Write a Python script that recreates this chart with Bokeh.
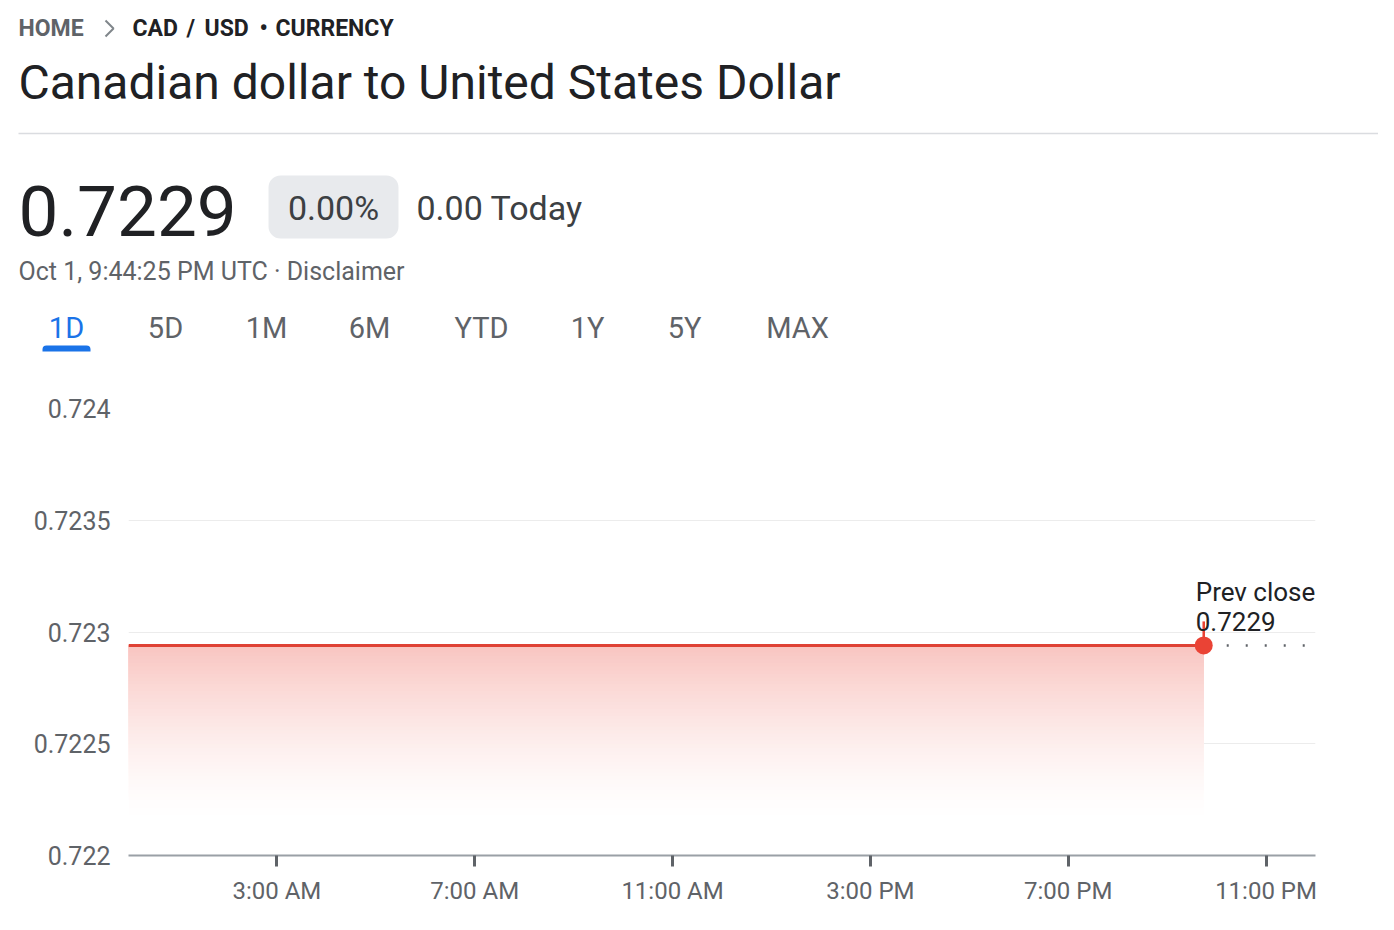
import numpy as np
from bokeh.plotting import figure
from bokeh.models import Range1d, FixedTicker
from bokeh.embed import file_html
from bokeh.resources import INLINE
from bokeh.core.properties import value

# ---------------- data ----------------
breadcrumb_home = "HOME"
breadcrumb_pair = ["CAD", "/", "USD", "•", "CURRENCY"]
title_text = "Canadian dollar to United States Dollar"
price_text = "0.7229"
change_pct_text = "0.00%"
change_abs_text = "0.00 Today"
timestamp_text = "Oct 1, 9:44:25 PM UTC · Disclaimer"
tab_labels = ["1D", "5D", "1M", "6M", "YTD", "1Y", "5Y", "MAX"]
active_tab = "1D"

times_h = [0.0, 21.74]          # hours after midnight
rates = [0.72294, 0.72294]
prev_close = 0.72294
prev_close_end_h = 23.8

y_ticks = [0.722, 0.7225, 0.723, 0.7235, 0.724]
y_tick_labels = ["0.722", "0.7225", "0.723", "0.7235", "0.724"]
x_ticks = [3, 7, 11, 15, 19, 23]
x_tick_labels = ["3:00 AM", "7:00 AM", "11:00 AM", "3:00 PM", "7:00 PM", "11:00 PM"]

# ---------------- layout / style ----------------
W, H = 1378, 914
HH = 372                                  # header height
CH = H - HH                               # chart height
FL, FR, FT, FB = 128, 1315, 408, 855      # chart frame edges in page pixels
RED = "#ea4335"
LINE_RED = "#df4235"
DARK = "#202124"
GRAY = "#5f6368"
BLUE = "#1a73e8"
RB = value("Roboto")

# ---------------- header (page-pixel coordinates) ----------------
hdr = figure(width=W, height=HH, x_range=Range1d(0, W), y_range=Range1d(HH, 0),
             output_backend="svg", toolbar_location=None, min_border=0,
             x_axis_location=None, y_axis_location=None)
hdr.grid.visible = False
hdr.outline_line_color = None


def txt(px, py, text, size, color=DARK, align="left", style="normal"):
    hdr.text(x=[px], y=[py], text=[text], text_font=RB, text_font_size=size, text_color=color,
             text_align=align, text_baseline="middle", text_font_style=style)


txt(18, 28, breadcrumb_home, "23px", GRAY, style="bold")
hdr.line(x=[105, 113, 105], y=[20, 28, 36], line_color="#80868b", line_width=2)
for word, px in zip(breadcrumb_pair, [132, 186, 204, 259, 275]):
    txt(px, 28, word, "23px", DARK, style="bold")
txt(18, 82, title_text, "48px", DARK)
hdr.line(x=[18, W], y=[133, 133], line_color="#dadce0", line_width=1.5)

txt(18, 210, price_text, "71px", DARK)
hdr.quad(left=[268], right=[398], top=[175], bottom=[238], fill_color="#e8eaed",
         line_color=None, border_radius=12)
txt(333, 207, change_pct_text, "34px", "#3c4043", align="center")
txt(416, 207, change_abs_text, "34px", "#3c4043")
txt(18, 271, timestamp_text, "25px", GRAY)

tab_x = [66, 165, 266, 369, 481, 587, 684, 797]
tab_colors = [BLUE if t_lab == active_tab else GRAY for t_lab in tab_labels]
hdr.text(x=tab_x, y=[327] * len(tab_x), text=tab_labels, text_font=RB, text_font_size="29px",
         text_color=tab_colors, text_align="center", text_baseline="middle")
ai = tab_labels.index(active_tab)
hdr.quad(left=[tab_x[ai] - 24], right=[tab_x[ai] + 24], top=[345], bottom=[351],
         fill_color=BLUE, line_color=None, border_radius=(4, 4, 0, 0))

# ---------------- chart ----------------
p = figure(width=W, height=CH, x_range=Range1d(0, 24), y_range=Range1d(0.722, 0.724),
           output_backend="svg", toolbar_location=None,
           min_border_left=FL, min_border_right=W - FR, min_border_top=FT - HH,
           min_border_bottom=H - FB)
p.outline_line_color = None
p.xgrid.visible = False
p.ygrid.ticker = FixedTicker(ticks=y_ticks)
p.ygrid.grid_line_color = "#ececec"
p.ygrid.grid_line_width = 1

p.yaxis.ticker = FixedTicker(ticks=y_ticks)
p.yaxis.major_label_overrides = dict(zip(y_ticks, y_tick_labels))
p.yaxis.axis_line_color = None
p.yaxis.major_tick_line_color = None
p.yaxis.minor_tick_line_color = None
p.yaxis.major_label_standoff = 12
p.yaxis.major_label_text_font = "Roboto"
p.yaxis.major_label_text_font_size = "25px"
p.yaxis.major_label_text_color = GRAY

p.xaxis.ticker = FixedTicker(ticks=x_ticks)
p.xaxis.major_label_overrides = dict(zip(x_ticks, x_tick_labels))
p.xaxis.axis_line_color = "#9aa0a6"
p.xaxis.axis_line_width = 2
p.xaxis.major_tick_out = 11
p.xaxis.major_tick_in = 0
p.xaxis.major_tick_line_width = 3
p.xaxis.major_tick_line_color = GRAY
p.xaxis.minor_tick_line_color = None
p.xaxis.major_label_standoff = 10
p.xaxis.major_label_text_font = "Roboto"
p.xaxis.major_label_text_font_size = "24px"
p.xaxis.major_label_text_color = GRAY

t = np.array(times_h)
r = np.array(rates)
fade_floor = 0.72215
N = 50


def blend(a):
    return "#%02x%02x%02x" % tuple(int(round(255 - a * (255 - c))) for c in (0xea, 0x43, 0x35))


for k in range(N - 1, -1, -1):
    f1 = (k + 1) / N
    lower = r - (r - fade_floor) * f1
    a = 0.31 * (1 - (k + 0.5) / N) ** 1.5
    p.varea(x=t, y1=lower, y2=r, fill_color=blend(a))

p.line(x=t, y=r, line_color=LINE_RED, line_width=3)

t_end = times_h[-1]
p.line(x=[t_end, prev_close_end_h], y=[prev_close, prev_close], line_color="#5f6368",
       line_width=2.5, line_dash="2 17", line_dash_offset=15)

PY = (FB - FT) / (0.724 - 0.722)
p.segment(x0=[t_end], y0=[rates[-1]], x1=[t_end], y1=[rates[-1] + 24 / PY],
          line_color=RED, line_width=2.5)
p.scatter(x=[t_end], y=[rates[-1]], size=18, fill_color=RED, line_color=None)

p.text(x=[t_end], y=[prev_close], text=["Prev close"], x_offset=-8, y_offset=-53,
       text_font=RB, text_font_size="26px", text_color=DARK, text_baseline="middle")
p.text(x=[t_end], y=[prev_close], text=[f"{prev_close:.4f}"], x_offset=-8, y_offset=-24,
       text_font=RB, text_font_size="26px", text_color=DARK, text_baseline="middle")

open("out.html", "w").write(file_html([hdr, p], INLINE))
